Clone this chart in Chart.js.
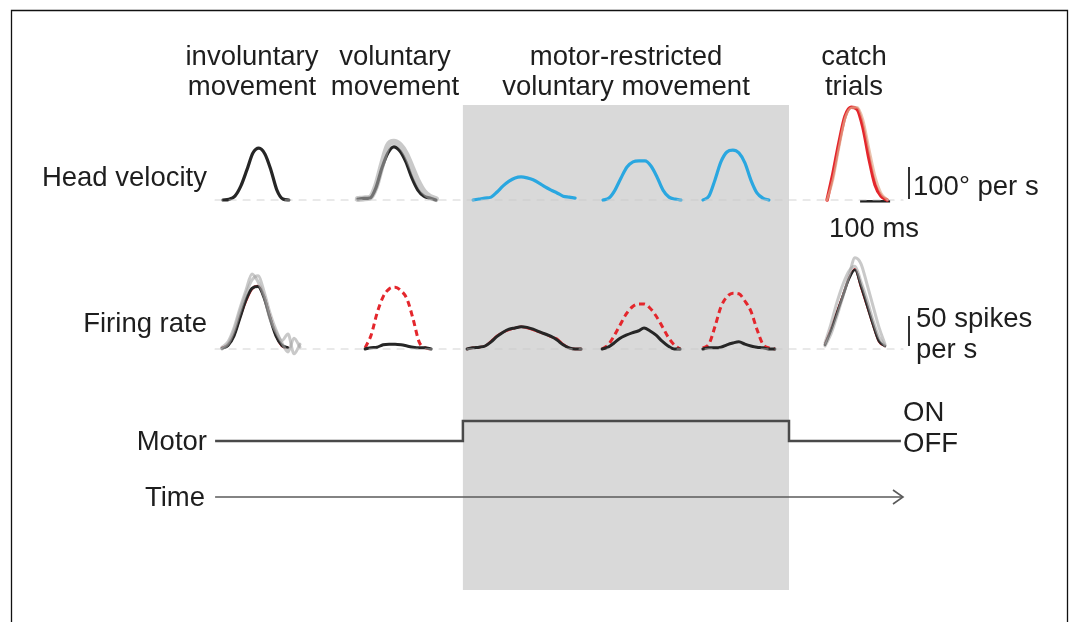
<!DOCTYPE html>
<html>
<head>
<meta charset="utf-8">
<script src="https://cdn.jsdelivr.net/npm/chart.js@4.4.1/dist/chart.umd.min.js"></script>
<style>
  html, body { margin: 0; padding: 0; background: #ffffff; }
  #wrap { width: 1077px; height: 622px; position: relative; }
</style>
</head>
<body>
<div id="wrap"><canvas id="c" width="1077" height="622"></canvas></div>
<script>
// ---------------- DATA ----------------
// sample step of every trace, in ms
const STEP_MS = 20;

// Head velocity traces (deg/s), one sample every STEP_MS
const headInvoluntary   = [0, 2, 12, 44, 94, 147, 162, 144, 94, 31, 3, 0];
const headVoluntary     = [3, 5, 6, 38, 100, 147, 166, 153, 119, 69, 31, 12, 6, 0];
const headVoluntaryGray = [3, 5, 7, 42, 110, 170, 182, 172, 145, 102, 58, 26, 10, 3];
const headRestricted1   = [0, 3, 6, 9, 25, 44, 59, 69, 72, 69, 63, 53, 41, 31, 22, 12, 9, 6];
const headRestricted2   = [0, 6, 31, 69, 103, 119, 122, 122, 106, 72, 31, 9, 3, 0];
const headRestricted3   = [0, 12, 62, 119, 150, 156, 147, 116, 62, 22, 6, 0];
const headCatch         = [0, 85, 181, 262, 290, 284, 225, 128, 47, 12, 0];
const headCatchTrace    = [0, 65, 165, 255, 288, 290, 250, 160, 75, 22, 2];

// Firing rate traces (spikes/s): red = predicted (dashed when differs), black = observed
const frInvoluntaryRed   = [2, 7, 23, 53, 80, 100, 105, 87, 53, 23, 5, 2];
const frInvoluntaryBlack = [1, 6, 22, 52, 82, 101, 104, 86, 52, 22, 6, 2];
const frInvoluntaryGray1 = [0, 8, 30, 62, 92, 115, 122, 96, 60, 32, 14, 25, -8, 8];
const frInvoluntaryGray2 = [3, 12, 35, 68, 98, 125, 112, 88, 50, 28, 10, -5, 18, 3];
const frVoluntaryRed     = [2, 23, 60, 87, 100, 103, 97, 83, 50, 12, 2, 0];
const frVoluntaryBlack   = [0, 2, 3, 7, 8, 8, 7, 5, 3, 2, 2, 0];
const frRestricted1Red   = [0, 2, 3, 5, 13, 22, 28, 32, 35, 37, 35, 32, 28, 25, 20, 17, 8, 2, 0, 0];
const frRestricted1Black = [0, 2, 3, 5, 12, 21, 28, 33, 35, 37, 36, 33, 29, 25, 21, 15, 7, 2, 0, 0];
const frRestricted2Red   = [0, 7, 22, 40, 58, 70, 75, 75, 68, 55, 38, 20, 7, 0];
const frRestricted2Black = [0, 3, 10, 18, 23, 27, 30, 35, 30, 23, 13, 5, 0, 0];
const frRestricted3Red   = [2, 8, 37, 70, 87, 93, 92, 80, 63, 33, 8, 2, 0];
const frRestricted3Black = [0, 2, 2, 3, 7, 10, 12, 8, 5, 3, 2, 0, 0];
const frCatchRed         = [8, 33, 62, 90, 118, 133, 103, 72, 40, 12, 5];
const frCatchBlack       = [7, 31, 60, 89, 117, 132, 105, 73, 41, 13, 5];
const frCatchGray1       = [5, 25, 55, 88, 122, 152, 142, 108, 72, 36, 8];
const frCatchGray2       = [10, 42, 78, 108, 130, 138, 112, 82, 48, 20, 6];

// Motor state over time (0 = OFF, 1 = ON), time in ms
const motorTime  = [717, 1543, 1543, 2630, 2630, 3003];
const motorState = [0, 0, 1, 1, 0, 0];

// Time axis extent (ms)
const timeAxis = [717, 2990];

// Scale bars
const velBar  = 100;   // deg/s
const frBar   = 50;    // spikes/s
const timeBar = 100;   // ms

// Text
const columnTitles = [
  ["involuntary", "movement"],
  ["voluntary", "movement"],
  ["motor-restricted", "voluntary movement"],
  ["catch", "trials"]
];
const rowLabels = ["Head velocity", "Firing rate", "Motor", "Time"];
const motorLevels = ["ON", "OFF"];
const velBarLabel = "100\u00B0 per s";
const timeBarLabel = "100 ms";
const frBarLabel = ["50 spikes", "per s"];

// ---------------- LAYOUT (positions, not data) ----------------
const L = {
  tHeadInv: 743, tHeadVol: 1193, tHeadR1: 1577, tHeadR2: 2010, tHeadR3: 2343, tHeadCatch: 2757,
  tFrInv: 740, tFrVol: 1217, tFrR1: 1557, tFrR2: 2007, tFrR3: 2343, tFrCatch: 2750,
  baseStart: 717, baseEnd: 3010,
  tVelBar: 3030, tFrBar: 3030, tTimeBar: 2867
};

function trace(vals, t0) {
  return vals.map((v, i) => ({ x: t0 + i * STEP_MS, y: v }));
}

const BLACK = '#262626', RED = '#e4262c', BLUE = '#2aa7e0', GRAY = 'rgba(165,165,165,0.6)';
const FONT = '27.5px "Liberation Sans", Arial, sans-serif';

function ds(data, axis, color, width, opts) {
  return Object.assign({
    data: data, yAxisID: axis, borderColor: color, borderWidth: width,
    pointRadius: 0, showLine: true, fill: false, tension: 0.4,
    cubicInterpolationMode: 'monotone', borderCapStyle: 'round', borderJoinStyle: 'round'
  }, opts || {});
}
const DASH = {borderDash: [6, 4], borderCapStyle: 'butt'};

const datasets = [
  // dashed zero baselines
  ds([{x: L.baseStart, y: 0}, {x: L.baseEnd, y: 0}], 'yv', 'rgba(200,200,200,0.8)', 1.2, {borderDash: [7, 7], tension: 0}),
  ds([{x: L.baseStart, y: 0}, {x: L.baseEnd, y: 0}], 'yf', 'rgba(200,200,200,0.8)', 1.2, {borderDash: [7, 7], tension: 0}),

  // head velocity
  ds(trace(headVoluntaryGray, L.tHeadVol), 'yv', GRAY, 6),
  ds(trace(headInvoluntary, L.tHeadInv), 'yv', BLACK, 3.2),
  ds(trace(headVoluntary, L.tHeadVol), 'yv', BLACK, 3.2),
  ds(trace(headRestricted1, L.tHeadR1), 'yv', BLUE, 3.2),
  ds(trace(headRestricted2, L.tHeadR2), 'yv', BLUE, 3.2),
  ds(trace(headRestricted3, L.tHeadR3), 'yv', BLUE, 3.2),
  ds(trace(headCatchTrace, L.tHeadCatch), 'yv', 'rgba(225,170,140,0.7)', 2.5),
  ds(trace(headCatch, L.tHeadCatch), 'yv', RED, 3.5),

  // firing rate
  ds(trace(frInvoluntaryGray1, L.tFrInv), 'yf', GRAY, 3, {tension: 0.2}),
  ds(trace(frInvoluntaryGray2, L.tFrInv), 'yf', GRAY, 3, {tension: 0.2}),
  ds(trace(frInvoluntaryBlack, L.tFrInv), 'yf', BLACK, 3),
  ds(trace(frInvoluntaryRed, L.tFrInv), 'yf', RED, 2.4),
  ds(trace(frVoluntaryBlack, L.tFrVol), 'yf', BLACK, 3),
  ds(trace(frVoluntaryRed, L.tFrVol), 'yf', RED, 3, DASH),
  ds(trace(frRestricted1Black, L.tFrR1), 'yf', BLACK, 3),
  ds(trace(frRestricted1Red, L.tFrR1), 'yf', RED, 2.4),
  ds(trace(frRestricted2Black, L.tFrR2), 'yf', BLACK, 3),
  ds(trace(frRestricted2Red, L.tFrR2), 'yf', RED, 3, DASH),
  ds(trace(frRestricted3Black, L.tFrR3), 'yf', BLACK, 3),
  ds(trace(frRestricted3Red, L.tFrR3), 'yf', RED, 3, DASH),
  ds(trace(frCatchGray1, L.tFrCatch), 'yf', GRAY, 3, {tension: 0.1}),
  ds(trace(frCatchGray2, L.tFrCatch), 'yf', GRAY, 3, {tension: 0.1}),
  ds(trace(frCatchBlack, L.tFrCatch), 'yf', BLACK, 2.6, {tension: 0.1}),
  ds(trace(frCatchRed, L.tFrCatch), 'yf', RED, 2.2, {tension: 0.1}),

  // motor
  ds(motorTime.map((t, i) => ({x: t, y: motorState[i]})), 'ym', '#4a4a4a', 2.5, {tension: 0, cubicInterpolationMode: 'default', borderCapStyle: 'butt', borderJoinStyle: 'miter'}),

  // scale bars
  ds([{x: L.tVelBar, y: 3}, {x: L.tVelBar, y: 3 + velBar}], 'yv', '#333', 2, {tension: 0, borderCapStyle: 'butt'}),
  ds([{x: L.tFrBar, y: 5}, {x: L.tFrBar, y: 5 + frBar}], 'yf', '#333', 2, {tension: 0, borderCapStyle: 'butt'}),
  ds([{x: L.tTimeBar, y: -4}, {x: L.tTimeBar + timeBar, y: -4}], 'yv', '#222', 2.5, {tension: 0, borderCapStyle: 'butt'})
];

// pixel geometry of the hidden axes (chart area = full canvas 1077 x 622)
const PX_PER_MS = 0.3, PX_PER_DEG = 0.32, PX_PER_SPK = 0.6, PX_PER_STATE = 20;
const H = 622, W = 1077;
const velBase = 200, frBase = 349, motorBase = 441;

const decor = {
  id: 'decor',
  beforeDatasetsDraw(chart) {
    const ctx = chart.ctx, x = chart.scales.x;
    const x0 = x.getPixelForValue(motorTime[2]), x1 = x.getPixelForValue(motorTime[3]);
    ctx.save();
    ctx.fillStyle = '#d9d9d9';
    ctx.fillRect(x0, 105, x1 - x0, 485);
    ctx.restore();
  },
  afterDatasetsDraw(chart) {
    const ctx = chart.ctx, x = chart.scales.x;
    ctx.save();
    // frame
    ctx.strokeStyle = '#111'; ctx.lineWidth = 1.3;
    ctx.beginPath();
    ctx.moveTo(11.5, 640); ctx.lineTo(11.5, 10.5); ctx.lineTo(1067.5, 10.5); ctx.lineTo(1067.5, 640);
    ctx.stroke();

    // time arrow
    const ta = x.getPixelForValue(timeAxis[0]), tb = x.getPixelForValue(timeAxis[1]);
    const ty = 497;
    ctx.strokeStyle = '#5a5a5a'; ctx.lineWidth = 1.6;
    ctx.beginPath(); ctx.moveTo(ta, ty); ctx.lineTo(tb + 6, ty); ctx.stroke();
    ctx.beginPath(); ctx.moveTo(tb - 4, ty - 7); ctx.lineTo(tb + 6, ty); ctx.lineTo(tb - 4, ty + 7); ctx.stroke();

    // text
    ctx.fillStyle = '#1e1e1e';
    ctx.font = FONT;
    ctx.textBaseline = 'alphabetic';
    ctx.textAlign = 'center';
    const colX = [252, 395, 626, 854];
    columnTitles.forEach((lines, i) => {
      ctx.fillText(lines[0], colX[i], 65);
      ctx.fillText(lines[1], colX[i], 95);
    });
    ctx.textAlign = 'right';
    ctx.fillText(rowLabels[0], 207, 186);
    ctx.fillText(rowLabels[1], 207, 332);
    ctx.fillText(rowLabels[2], 207, 450);
    ctx.fillText(rowLabels[3], 205, 506);
    ctx.textAlign = 'left';
    ctx.fillText(motorLevels[0], 903, 421);
    ctx.fillText(motorLevels[1], 903, 452);
    ctx.fillText(velBarLabel, 913, 195);
    ctx.fillText(frBarLabel[0], 916, 327);
    ctx.fillText(frBarLabel[1], 916, 358);
    ctx.textAlign = 'center';
    ctx.fillText(timeBarLabel, 874, 237);
    ctx.restore();
  }
};

new Chart(document.getElementById('c'), {
  type: 'scatter',
  data: { datasets: datasets },
  options: {
    responsive: false,
    animation: false,
    devicePixelRatio: 1,
    layout: { padding: 0 },
    plugins: { legend: { display: false }, tooltip: { enabled: false } },
    scales: {
      x:  { type: 'linear', display: false, min: 0, max: W / PX_PER_MS },
      yv: { type: 'linear', display: false, min: -(H - velBase) / PX_PER_DEG, max: velBase / PX_PER_DEG },
      yf: { type: 'linear', display: false, min: -(H - frBase) / PX_PER_SPK, max: frBase / PX_PER_SPK },
      ym: { type: 'linear', display: false, min: -(H - motorBase) / PX_PER_STATE, max: motorBase / PX_PER_STATE }
    }
  },
  plugins: [decor]
});
</script>
</body>
</html>
